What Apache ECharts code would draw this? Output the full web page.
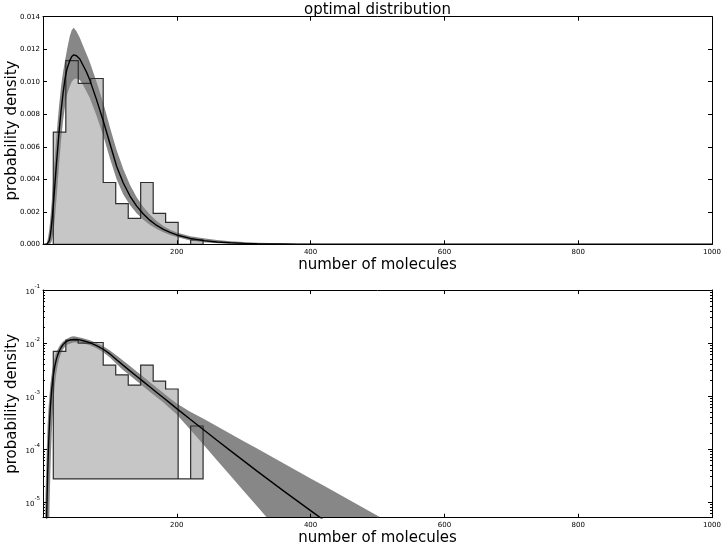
<!DOCTYPE html>
<html><head><meta charset="utf-8">
<script src="https://cdn.jsdelivr.net/npm/echarts@6/dist/echarts.min.js"></script>
<style>html,body{margin:0;padding:0;background:#fff}#c{width:724px;height:546px}</style>
</head><body><div id="c"></div>
<script>
// ---- data ----
const binEdges = [15.4, 34.1, 52.7, 71.4, 90.0, 108.7, 127.4, 146.0, 164.7, 183.3, 202.0, 220.7, 239.3];
const binDensity = [0.0069, 0.0113, 0.0099, 0.0102, 0.0038, 0.0025, 0.0016, 0.0038, 0.0019, 0.00135, 0, 0.00027];
const logHistBase = 2.7e-5;

const curveX = [2,3,4,5,6,7,8,9,10,11,12,13,14,15,16,17,18,19,20,21,22,
  24,27,30,33,36,40,43,46,50,55,60,65,70,
  80,90,100,110,120,130,140,150,160,170,180,190,200,
  220,240,260,280,300,320,340,360,380,400,
  420,450,500,550,600,700,800,1000];
const curveMid = [1e-9,5e-8,6e-7,2.5e-6,1.1e-5,3.5e-5,9e-5,1.9e-4,3.5e-4,6e-4,9e-4,1.3e-3,1.7e-3,2.2e-3,2.7e-3,3.25e-3,3.8e-3,4.35e-3,4.9e-3,5.4e-3,5.9e-3,
  6.9e-3,8.2e-3,9.3e-3,0.0102,0.0108,0.0113,0.01155,0.01165,0.0116,0.0114,0.0110,0.0106,0.0101,
  0.0089,0.0076,0.0062,0.0048,0.00377,0.00297,0.00235,0.00186,0.00147,0.00116,0.00092,0.00073,0.000574,
  3.62e-4,2.29e-4,1.45e-4,9.25e-5,5.92e-5,3.8e-5,2.45e-5,1.59e-5,1.04e-5,6.8e-6,
  4.47e-6,2.4e-6,8.3e-7,3e-7,1e-7,1e-8,1e-9,1e-11];
const curveUpper = [1.5e-6,5e-6,1.8e-5,5e-5,1.3e-4,3e-4,5.2e-4,8e-4,1.15e-3,1.6e-3,2.1e-3,2.6e-3,3.2e-3,3.8e-3,4.4e-3,5.0e-3,5.55e-3,6.1e-3,6.6e-3,7.1e-3,7.6e-3,
  8.5e-3,9.7e-3,0.0106,0.0113,0.0120,0.0128,0.01318,0.01332,0.0131,0.0127,0.0122,0.0117,0.0112,
  0.0100,0.0087,0.0072,0.0058,0.00463,0.00366,0.00289,0.00229,0.00181,0.00143,0.00113,0.000897,0.00072,
  5.0e-4,3.68e-4,2.66e-4,1.93e-4,1.39e-4,1.01e-4,7.3e-5,5.27e-5,3.82e-5,2.76e-5,
  2.0e-5,1.23e-5,5.47e-6,2.43e-6,1.08e-6,2.1e-7,4.3e-8,1.6e-9];
const curveLower = [1e-10,1e-10,1e-10,1e-10,1e-9,1e-8,6e-7,2.5e-6,1.1e-5,3.5e-5,9e-5,1.9e-4,3.5e-4,6e-4,9e-4,1.3e-3,1.7e-3,2.2e-3,2.7e-3,3.25e-3,3.8e-3,
  4.9e-3,6.4e-3,7.6e-3,8.5e-3,9.2e-3,9.7e-3,0.0100,0.01015,0.0102,0.0101,0.0098,0.0094,0.0090,
  0.0079,0.0067,0.0053,0.0040,0.00306,0.00242,0.00191,0.00151,0.00119,0.000944,0.000746,0.000577,0.000446,
  2.32e-4,1.19e-4,6.1e-5,3.13e-5,1.6e-5,8.2e-6,4.2e-6,2.2e-6,1.1e-6,5.7e-7,
  2.9e-7,1.07e-7,2e-8,4e-9,1e-9,1e-10,1e-11,1e-12];

const logMajor = [1e-5, 1e-4, 1e-3, 1e-2, 1e-1];
const logMajorExp = ['-5', '-4', '-3', '-2', '-1'];
const logMinor = [];
for (let e = -6; e <= -2; e++) for (let m = 2; m <= 9; m++) { const v = m * Math.pow(10, e); if (v >= 5e-6 && v <= 0.1) logMinor.push(v); }

// ---- geometry helpers ----
function histPts(base) {
  const pts = [[binEdges[0], base]];
  for (let i = 0; i < binDensity.length; i++) {
    const v = binDensity[i] > 0 ? binDensity[i] : base;
    pts.push([binEdges[i], v], [binEdges[i + 1], v]);
  }
  pts.push([binEdges[binEdges.length - 1], base]);
  return pts;
}
function bandPts() {
  const pts = [];
  for (let i = 0; i < curveX.length; i++) pts.push([curveX[i], curveUpper[i]]);
  for (let i = curveX.length - 1; i >= 0; i--) pts.push([curveX[i], curveLower[i]]);
  return pts;
}
function polySeries(xi, yi, getPts, style, z) {
  return {
    type: 'custom', xAxisIndex: xi, yAxisIndex: yi, z: z, silent: true, clip: true,
    data: [[binEdges[0], binDensity[0]]],
    renderItem: function (params, api) {
      const cs = params.coordSys;
      const pts = getPts().map(p => api.coord(p));
      return {
        type: 'polygon', shape: { points: pts }, style: style,
        clipPath: { type: 'rect', shape: { x: cs.x, y: cs.y, width: cs.width, height: cs.height } }
      };
    }
  };
}
const HIST_FILL = '#c6c6c6', BAND = '#878787', EDGE = '#2e2e2e';
function panelSeries(xi, yi, base) {
  return [
    polySeries(xi, yi, () => histPts(base), { fill: HIST_FILL, stroke: null }, 1),
    polySeries(xi, yi, bandPts, { fill: BAND, stroke: null }, 2),
    polySeries(xi, yi, () => histPts(base), { fill: 'none', stroke: EDGE, lineWidth: 1.2 }, 3),
    { type: 'line', xAxisIndex: xi, yAxisIndex: yi, z: 4, silent: true, symbol: 'none', smooth: false,
      lineStyle: { color: '#000', width: 1.4 }, clip: true,
      data: curveX.map((x, i) => [x, curveMid[i]]) }
  ];
}

const AX = { lineStyle: { color: '#000', width: 1 } };
const FONT = 'DejaVu Sans';
function xAx(grid, pos, labels) {
  return {
    type: 'value', gridIndex: grid, position: pos, min: 0, max: 1000, interval: 200, z: 10,
    axisLine: { show: true, onZero: false, lineStyle: AX.lineStyle },
    axisTick: { show: true, inside: true, length: 4, lineStyle: { color: '#000' } },
    splitLine: { show: false },
    axisLabel: { show: labels, fontSize: 7, color: '#000', margin: 4, fontFamily: FONT,
      formatter: v => (v === 0 ? '' : String(v)) },
    name: labels ? 'number of molecules' : '', nameLocation: 'middle', nameGap: 13, nameMoveOverlap: false,
    nameTextStyle: { fontSize: 15, color: '#000', fontFamily: FONT }
  };
}
function yLin(pos, labels) {
  return {
    type: 'value', gridIndex: 0, position: pos, min: 0, max: 0.014, interval: 0.002, z: 10,
    axisLine: { show: true, onZero: false, lineStyle: AX.lineStyle },
    axisTick: { show: true, inside: true, length: 4, lineStyle: { color: '#000' } },
    splitLine: { show: false },
    axisLabel: { show: labels, fontSize: 7, color: '#000', margin: 3, fontFamily: FONT, formatter: v => v.toFixed(3) },
    name: labels ? 'probability density' : '', nameLocation: 'middle', nameGap: 23, nameRotate: 90, nameMoveOverlap: false,
    nameTextStyle: { fontSize: 15, color: '#000', fontFamily: FONT }
  };
}
function yLog(pos, labels, minor) {
  const vals = minor ? logMinor : logMajor;
  return {
    type: 'log', logBase: 10, gridIndex: 1, position: pos, min: 5e-6, max: 0.1, z: 10,
    axisLine: { show: !minor, onZero: false, lineStyle: AX.lineStyle },
    axisTick: { show: true, inside: true, length: minor ? 2 : 4, customValues: vals, lineStyle: { color: '#000' } },
    splitLine: { show: false }, minorTick: { show: false },
    axisLabel: { show: labels, customValues: logMajor, color: '#000', margin: 3, fontFamily: FONT,
      formatter: v => { const i = logMajor.findIndex(m => Math.abs(Math.log10(m) - Math.log10(v)) < 1e-6); return i >= 0 ? '{b|10}{s|' + logMajorExp[i] + '}' : ''; },
      rich: {
        b: { fontSize: 7, lineHeight: 12, verticalAlign: 'bottom', color: '#000', fontFamily: FONT },
        s: { fontSize: 5.5, lineHeight: 7, verticalAlign: 'top', color: '#000', fontFamily: FONT }
      } },
    name: labels ? 'probability density' : '', nameLocation: 'middle', nameGap: 23, nameRotate: 90, nameMoveOverlap: false,
    nameTextStyle: { fontSize: 15, color: '#000', fontFamily: FONT }
  };
}

const chart = echarts.init(document.getElementById('c'), null, { renderer: 'canvas' });
chart.setOption({
  animation: false,
  backgroundColor: '#fff',
  textStyle: { fontFamily: FONT },
  title: { text: 'optimal distribution', left: 377.5, textAlign: 'center', top: 3, padding: 0,
    textStyle: { fontSize: 15, fontWeight: 'normal', color: '#000', fontFamily: FONT } },
  grid: [
    { left: 43, top: 16.7, width: 669, height: 227.6, show: false, containLabel: false, outerBoundsMode: 'none' },
    { left: 43, top: 290, width: 669, height: 227.7, show: false, containLabel: false, outerBoundsMode: 'none' }
  ],
  xAxis: [xAx(0, 'bottom', true), xAx(0, 'top', false), xAx(1, 'bottom', true), xAx(1, 'top', false)],
  yAxis: [yLin('left', true), yLin('right', false),
    yLog('left', true, false), yLog('right', false, false), yLog('left', false, true), yLog('right', false, true)],
  series: [].concat(panelSeries(0, 0, 0), panelSeries(2, 2, logHistBase))
});
</script></body></html>
